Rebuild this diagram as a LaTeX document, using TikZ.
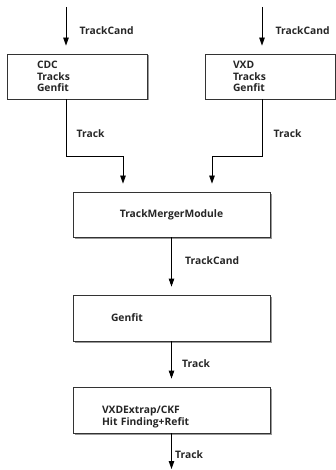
\documentclass[tikz,border=0pt]{standalone}
\usepackage{fontspec}
\setmainfont{Open Sans}
\usetikzlibrary{arrows.meta,shadows}
\tikzstyle{every node}=[font=\bfseries\fontsize{10.3}{11.5}\selectfont,text=black!85]
\tikzstyle{module}=[draw=black!80,line width=0.8pt,fill=white,align=left,inner ysep=0pt,
  drop shadow={shadow xshift=1.5pt,shadow yshift=-1.5pt,fill=black!40,opacity=1}]
\tikzstyle{flow}=[line width=0.8pt,-{Triangle[length=8pt,width=5.5pt]},shorten >=8pt]

\begin{document}
\begin{tikzpicture}[x=1pt,y=-1pt]
    \useasboundingbox (0,0) rectangle (336,470);
    \node[module,text width=80pt,inner xsep=30pt,minimum height=45pt] (cdc) at (77,76.5) {CDC\\Tracks\\Genfit};
    \node[module,text width=74pt,inner xsep=28pt,minimum height=45pt] (vxd) at (270,76.5) {VXD\\Tracks\\Genfit};
    \node[module,align=center,minimum width=197pt,minimum height=45pt] (merger) at (171.5,214.5) {TrackMergerModule};
    \node[module,text width=121pt,inner xsep=38pt,minimum height=46pt] (genfit) at (171.5,318) {Genfit};
    \node[module,text width=139pt,inner xsep=29pt,minimum height=46pt] (ckf) at (171.5,410) {\rule{0pt}{21pt}VXDExtrap/CKF\\Hit Finding+Refit};
    \coordinate (cdcIn) at (66,7);
    \coordinate (vxdIn) at (262,7);
    \coordinate (out) at (171.5,469);
    % inputs
    \draw[flow] (cdcIn) -- node[right,xshift=10pt]{TrackCand} (cdcIn |- cdc.north);
    \draw[flow] (vxdIn) -- node[right,xshift=10pt]{TrackCand} (vxdIn |- vxd.north);
    % into the merger
    \draw[flow] (cdc.south -| cdcIn) -- node[right,pos=0.6,xshift=7pt]{Track} ++(0,57) -| ([xshift=-48.5pt]merger.north);
    \draw[flow] (vxd.south -| vxdIn) -- node[right,pos=0.6,xshift=8pt]{Track} ++(0,57) -| ([xshift=40.5pt]merger.north);
    % chain
    \draw[flow] (merger) -- node[right,pos=0.4,xshift=10pt]{TrackCand} (genfit);
    \draw[flow] (genfit) -- node[right,xshift=7pt]{Track} (ckf);
    \draw[flow,shorten >=0pt] (ckf) -- node[right,pos=0.6]{Track} (out);
\end{tikzpicture}
\end{document}
